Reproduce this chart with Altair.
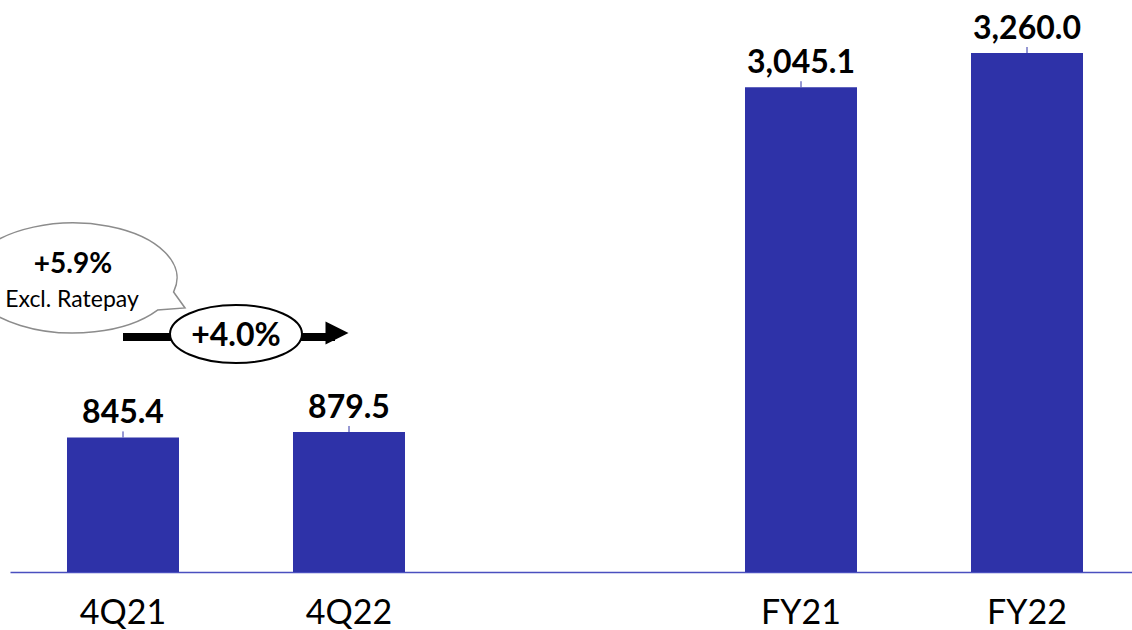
import altair as alt
import pandas as pd

# Revenue by period (EUR m)
periods = ["4Q21", "4Q22", "FY21", "FY22"]
revenue = [845.4, 879.5, 3045.1, 3260.0]
# a blank slot separates the quarterly pair from the full-year pair
slots = ["4Q21", "4Q22", " ", "FY21", "FY22"]

growth_q = (revenue[1] / revenue[0] - 1) * 100
growth_label = f"+{growth_q:.1f}%"
excl_label = "+5.9%"
excl_note = "Excl. Ratepay"

BLUE = "#2E32A8"
FONT = "Lato"

df = pd.DataFrame({"period": periods, "revenue": revenue})
df["label"] = [f"{v:,.1f}" for v in revenue]

x = alt.X(
    "period:N",
    sort=slots,
    scale=alt.Scale(domain=slots, range=[0, 1130], paddingInner=0.5044, paddingOuter=0.2522),
    axis=alt.Axis(
        title=None, labelAngle=0, ticks=False, tickSize=0, labelPadding=51,
        labelBaseline="alphabetic", labelFont=FONT, labelFontSize=34,
        labelColor="#000000", domainColor="#4A4FBF", domainWidth=1.5,
        grid=False,
    ),
)
y = alt.Y("revenue:Q", scale=alt.Scale(domain=[0, 3593], nice=False), axis=None)

base = alt.Chart(df)
bars = base.mark_bar(color=BLUE).encode(x=x, y=y)
stems = base.mark_rule(color=BLUE, strokeWidth=1, y2Offset=-6).encode(
    x=alt.X("period:N", sort=slots), y="revenue:Q", y2="revenue:Q"
)
values = base.mark_text(
    font=FONT, fontSize=32, fontWeight="bold", baseline="alphabetic", dy=-14, color="#000000"
).encode(x=alt.X("period:N", sort=slots), y="revenue:Q", text="label:N")

# growth annotation anchored to the quarterly bars
ann = pd.DataFrame({"start": ["4Q21"], "end": ["4Q22"], "growth": [growth_label],
                    "excl": [excl_label], "note": [excl_note]})
abase = alt.Chart(ann)

bubble_path = ("M 0.967 0.135 L 1.077 0.288 L 0.813 0.308 "
               "A 1 0.529 0 1 1 0.967 0.135 Z")
bubble = abase.mark_point(
    shape=bubble_path, size=208 ** 2, fill="white", stroke="#8C8C8C",
    strokeWidth=1.5, opacity=1, fillOpacity=1, xOffset=-50,
).encode(x=alt.X("start:N", sort=slots), y=alt.value(278))
bubble_pct = abase.mark_text(
    font=FONT, fontSize=28, fontWeight="bold", baseline="middle", xOffset=-50, color="#000000"
).encode(x=alt.X("start:N", sort=slots), y=alt.value(265), text="excl:N")
bubble_note = abase.mark_text(
    font=FONT, fontSize=23, baseline="middle", xOffset=-51, color="#000000"
).encode(x=alt.X("start:N", sort=slots), y=alt.value(300), text="note:N")

arrow = abase.mark_rule(color="black", strokeWidth=8, x2Offset=-14).encode(
    x=alt.X("start:N", sort=slots), x2="end:N", y=alt.value(337)
)
head = abase.mark_point(
    shape="M -1 -1 L 1 0 L -1 1 Z", size=23 ** 2, fill="black", stroke="black",
    strokeWidth=0, opacity=1, fillOpacity=1, xOffset=-12,
).encode(x=alt.X("end:N", sort=slots), y=alt.value(333))

oval = abase.mark_point(
    shape="M -1 0 A 1 0.44 0 1 1 1 0 A 1 0.44 0 1 1 -1 0 Z", size=132 ** 2,
    fill="white", stroke="black", strokeWidth=2, opacity=1, fillOpacity=1, xOffset=113,
).encode(x=alt.X("start:N", sort=slots), y=alt.value(334))
oval_text = abase.mark_text(
    font=FONT, fontSize=32, fontWeight="bold", baseline="middle", xOffset=113, color="#000000"
).encode(x=alt.X("start:N", sort=slots), y=alt.value(336), text="growth:N")

chart = (
    alt.layer(bars, stems, values, bubble, bubble_pct, bubble_note, arrow, head, oval, oval_text)
    .properties(
        width=1122, height=572,
        autosize=alt.AutoSizeParams(type="none"),
        padding={"left": 10, "top": 0, "right": 0, "bottom": 58},
        background="white",
    )
    .configure_view(stroke=None)
)

chart.save("out.html", embed_options={"renderer": "svg", "actions": False})
